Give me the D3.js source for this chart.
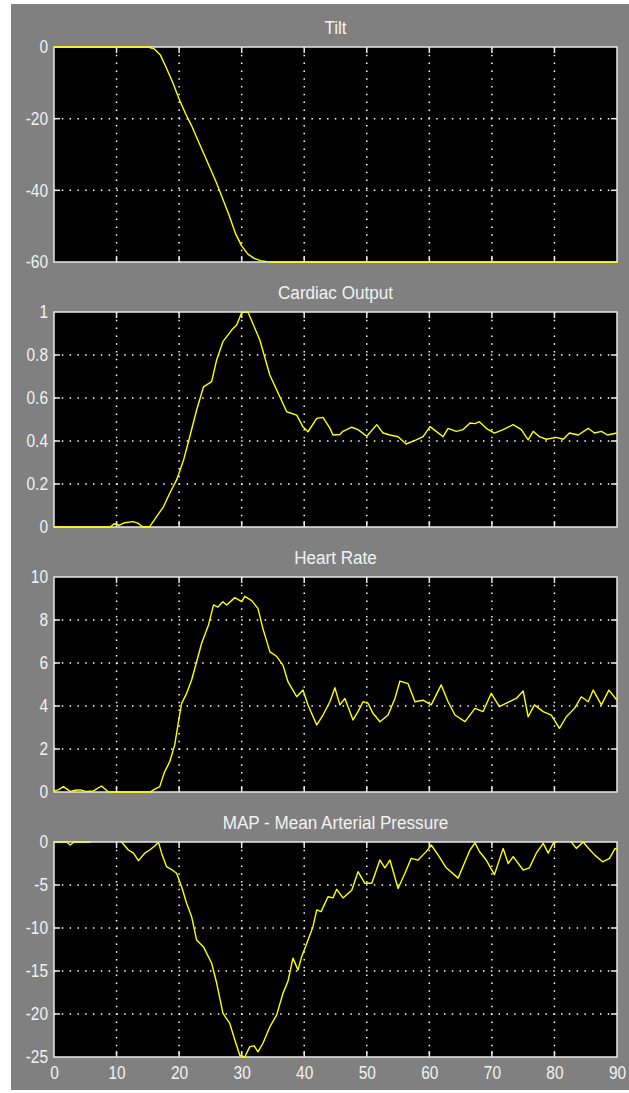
<!DOCTYPE html>
<html>
<head>
<meta charset="utf-8">
<script src="https://cdn.jsdelivr.net/npm/d3@7"></script>
<style>
  body { margin: 0; background: #fff; }
  svg text { font-family: "Liberation Sans", Arial, sans-serif; fill: #f2f2f2; }
  /* the scope font is tall and narrow */
  .ylab text { transform-box: fill-box; transform-origin: right center; transform: scaleX(0.86); }
  .xlab text { transform-box: fill-box; transform-origin: center; transform: scaleX(0.86); }
  .ttl { transform-box: fill-box; transform-origin: center; transform: scaleX(0.9); }
</style>
</head>
<body>
<svg id="chart"></svg>
<script>
// scope data
const titles = ['Tilt', 'Cardiac Output', 'Heart Rate', 'MAP - Mean Arterial Pressure'];
const xTicks = [0, 10, 20, 30, 40, 50, 60, 70, 80, 90];

const tiltTicks = [0, -20, -40, -60];
const coTicks = [0, 0.2, 0.4, 0.6, 0.8, 1];
const hrTicks = [0, 2, 4, 6, 8, 10];
const mapTicks = [0, -5, -10, -15, -20, -25];

const tiltT = [0, 15, 16, 17, 18, 19, 20, 21, 22, 23, 24, 25, 26, 27, 28, 29, 30, 31, 32, 33, 34, 35, 90];
const tiltV = [0, 0, -0.5, -2.2, -6, -10, -14.5, -18.5, -22, -26, -30, -34, -38, -42.5, -47, -52, -55.5, -57.8, -59, -59.6, -59.9, -60, -60];

const coT = [0, 9, 9.6, 10.4, 11.3, 12.6, 13.4, 14.2, 15.3, 16.4, 17.5, 18.5, 19.6, 20.7, 21.7, 22.8, 23.9, 25.2, 26, 27,
  28.4, 29.2, 30, 31, 32.9, 34.5, 36.1, 37.2, 38.8, 39.8, 40.6, 42, 43, 44.1, 44.6, 45.7, 46.2, 47.6, 48.6, 50,
  51.6, 52.6, 53.7, 55, 56.3, 57.9, 59, 60.1, 61.1, 62.2, 63, 64.3, 65.4, 66.5, 67.3, 68, 69.1, 70.4, 71.8, 73.4,
  74.7, 75.8, 76.6, 77.6, 78.7, 80.3, 81.4, 82.4, 83.8, 85.4, 86.4, 87.5, 88.5, 90];
const coV = [0, 0, 0.015, 0.008, 0.02, 0.025, 0.018, 0, 0.002, 0.048, 0.094, 0.157, 0.219, 0.31, 0.42, 0.544, 0.652, 0.676, 0.777, 0.862,
  0.916, 0.94, 0.997, 1.0, 0.87, 0.707, 0.606, 0.536, 0.52, 0.466, 0.443, 0.505, 0.51, 0.46, 0.428, 0.43, 0.445, 0.464, 0.453, 0.422,
  0.476, 0.437, 0.428, 0.42, 0.386, 0.405, 0.42, 0.467, 0.445, 0.42, 0.459, 0.445, 0.453, 0.484, 0.481, 0.49, 0.459, 0.437, 0.453, 0.476,
  0.453, 0.405, 0.445, 0.42, 0.408, 0.417, 0.408, 0.437, 0.428, 0.459, 0.437, 0.445, 0.428, 0.437];

const hrT = [0, 0.7, 1.5, 2.6, 3.4, 4.2, 5.2, 6.3, 7.6, 8.7, 15.4, 15.9, 16.9, 17.7, 18.5, 19.3, 19.9, 20.4, 21.2, 22,
  22.8, 23.6, 24.7, 25.5, 26.2, 27, 27.6, 28.9, 30, 30.5, 31.6, 32.6, 33.4, 34.5, 35.6, 36.6, 37.4, 38.8, 39.8, 40.6,
  42, 43, 44.1, 44.9, 45.7, 46.5, 47.8, 48.6, 49.4, 50.2, 51, 52.1, 53.4, 54.5, 55.3, 56.6, 57.7, 59, 60.3, 61.9,
  63, 64.1, 65.7, 67.3, 68.6, 69.9, 71.2, 72.8, 73.9, 75, 75.8, 76.8, 78.2, 79.5, 80.8, 81.9, 83.2, 84.3, 85.4, 86.2,
  87.5, 88.7, 90];
const hrV = [0.05, 0.1, 0.25, 0.03, 0.08, 0.1, 0.02, 0.05, 0.28, 0, 0, 0.1, 0.25, 0.95, 1.41, 2.19, 3.27, 4.12, 4.59, 5.21,
  6.06, 6.92, 7.77, 8.7, 8.6, 8.85, 8.7, 9.04, 8.85, 9.1, 8.9, 8.54, 7.6, 6.53, 6.3, 5.9, 5.13, 4.43, 4.74, 4.05,
  3.12, 3.58, 4.2, 4.85, 4.05, 4.35, 3.35, 3.74, 4.2, 4.12, 3.66, 3.27, 3.58, 4.35, 5.16, 5.04, 4.2, 4.27, 4.05, 4.98,
  4.2, 3.58, 3.27, 3.89, 3.74, 4.59, 3.97, 4.2, 4.35, 4.7, 3.5, 4.05, 3.74, 3.58, 2.96, 3.5, 3.89, 4.43, 4.2, 4.74,
  4.05, 4.74, 4.27];

const mapT = [0, 2, 2.6, 3.2, 5.7, 6.5, 9, 10.5, 10.8, 11.9, 12.7, 13.5, 14.5, 15.3, 16.1, 16.7, 17.2, 18, 18.8, 19.6,
  20.4, 21.2, 22, 22.8, 23.9, 25.2, 26, 27, 28.1, 28.9, 29.7, 30.5, 31.3, 32, 32.6, 33.4, 34.5, 35.6, 36.6, 37.4,
  38.2, 39, 39.6, 40.4, 41.4, 42, 42.7, 43.8, 44.6, 45.2, 46.2, 47.6, 48.6, 49.7, 50.8, 52.1, 52.9, 53.7, 55, 56.1,
  57.1, 58.2, 59.5, 60.3, 61.4, 62.7, 64.6, 65.7, 66.5, 67.3, 68, 69.1, 70.4, 71.8, 72.6, 73.4, 75, 76, 77.1, 78.2,
  79, 79.8, 81, 82.2, 82.7, 83.5, 84.6, 85.4, 86.4, 87.7, 88.8, 89.7, 90];
const mapV = [0, 0, -0.35, 0, 0, 0.6, 0.8, 0.2, 0, -0.93, -1.3, -2.17, -1.3, -0.93, -0.47, -0.04, -1.3, -2.87, -3.2, -3.64,
  -5.2, -7.13, -8.68, -11.4, -12.2, -14.1, -16.4, -19.9, -21.1, -23, -24.8, -25, -23.8, -23.7, -24.4, -23.4, -21.5, -20.1, -17.6, -16.2,
  -13.5, -14.9, -13.3, -11.8, -9.85, -7.9, -8.1, -6.36, -6.5, -5.5, -6.5, -5.6, -3.45, -4.8, -4.8, -2.1, -3, -2.1, -5.4, -3.64,
  -1.9, -2.1, -1.12, -0.35, -1.5, -3, -4.2, -2.3, -0.93, -0.1, -1.1, -2.1, -3.8, -0.74, -2.5, -1.7, -3.26, -3, -1.3, -0.15,
  -1.3, -0.15, 0.3, 0.3, 0, -0.74, 0, -0.7, -1.5, -2.3, -1.9, -0.74, -0.9];

const panels = [
  { title: titles[0], t: tiltT, v: tiltV, ticks: tiltTicks, domain: [-60, 0] },
  { title: titles[1], t: coT, v: coV, ticks: coTicks, domain: [0, 1] },
  { title: titles[2], t: hrT, v: hrV, ticks: hrTicks, domain: [0, 10] },
  { title: titles[3], t: mapT, v: mapV, ticks: mapTicks, domain: [-25, 0] }
];

const W = 629, H = 1093;
const left = 54, right = 617;
const firstTop = 47, panelH = 215, step = 265;
const tickLen = 6;

const svg = d3.select('#chart').attr('width', W).attr('height', H);

// grey figure background
svg.append('rect')
  .attr('x', 11).attr('y', 4)
  .attr('width', W - 11).attr('height', 1086)
  .attr('fill', '#808080');

const x = d3.scaleLinear().domain([0, 90]).range([left, right]);

panels.forEach((p, i) => {
  const top = firstTop + i * step;
  const bottom = top + panelH;
  const y = d3.scaleLinear().domain(p.domain).range([bottom, top]);
  const g = svg.append('g');

  g.append('rect')
    .attr('x', left).attr('y', top)
    .attr('width', right - left).attr('height', panelH)
    .attr('fill', '#000');

  // dotted grid
  const xInner = xTicks.filter(d => d > 0 && d < 90);
  const yInner = p.ticks.filter(d => d > p.domain[0] && d < p.domain[1]);
  g.selectAll('.gx').data(xInner).join('line')
    .attr('x1', d => x(d)).attr('x2', d => x(d))
    .attr('y1', top).attr('y2', bottom)
    .attr('stroke', '#fff').attr('stroke-width', 1.5)
    .attr('stroke-dasharray', '1.5,6.3');
  g.selectAll('.gy').data(yInner).join('line')
    .attr('x1', left).attr('x2', right)
    .attr('y1', d => y(d)).attr('y2', d => y(d))
    .attr('stroke', '#fff').attr('stroke-width', 1.5)
    .attr('stroke-dasharray', '1.5,6.3');

  // inner tick marks on all sides
  const tk = '#e8e8e8';
  g.selectAll('.tb').data(xInner).join('line')
    .attr('x1', d => x(d)).attr('x2', d => x(d))
    .attr('y1', bottom).attr('y2', bottom - tickLen)
    .attr('stroke', tk).attr('stroke-width', 1.5);
  g.selectAll('.tt').data(xInner).join('line')
    .attr('x1', d => x(d)).attr('x2', d => x(d))
    .attr('y1', top).attr('y2', top + tickLen)
    .attr('stroke', tk).attr('stroke-width', 1.5);
  g.selectAll('.tl').data(yInner).join('line')
    .attr('x1', left).attr('x2', left + tickLen)
    .attr('y1', d => y(d)).attr('y2', d => y(d))
    .attr('stroke', tk).attr('stroke-width', 1.5);
  g.selectAll('.tr').data(yInner).join('line')
    .attr('x1', right).attr('x2', right - tickLen)
    .attr('y1', d => y(d)).attr('y2', d => y(d))
    .attr('stroke', tk).attr('stroke-width', 1.5);

  // box
  g.append('rect')
    .attr('x', left).attr('y', top)
    .attr('width', right - left).attr('height', panelH)
    .attr('fill', 'none').attr('stroke', tk).attr('stroke-width', 1.5);

  // y labels (plain hyphen minus, as on the scope)
  const ya = g.append('g')
    .attr('class', 'ylab')
    .attr('transform', `translate(${left - 6},0)`)
    .call(d3.axisLeft(y).tickValues(p.ticks).tickSize(0).tickPadding(0).tickFormat(d => String(d)));
  ya.select('.domain').remove();
  ya.selectAll('text').attr('font-size', 18).attr('fill', '#f2f2f2')
    .style('font-family', '"Liberation Sans", Arial, sans-serif');

  // title
  g.append('text')
    .attr('class', 'ttl')
    .attr('x', (left + right) / 2).attr('y', top - 13)
    .attr('text-anchor', 'middle')
    .attr('font-size', 19)
    .text(p.title);

  // signal
  const clipId = 'clip' + i;
  svg.append('clipPath').attr('id', clipId)
    .append('rect')
    .attr('x', left - 1).attr('y', top - 1)
    .attr('width', right - left + 2).attr('height', panelH + 2);

  const pts = p.t.map((t, k) => [t, p.v[k]]);
  g.append('path')
    .datum(pts)
    .attr('clip-path', `url(#${clipId})`)
    .attr('fill', 'none')
    .attr('stroke', '#ffff00')
    .attr('stroke-width', 1.4)
    .attr('stroke-linejoin', 'round')
    .attr('d', d3.line().x(d => x(d[0])).y(d => y(d[1])));

  // x labels on bottom panel only
  if (i === panels.length - 1) {
    const xa = g.append('g')
      .attr('class', 'xlab')
      .attr('transform', `translate(0,${bottom + 9})`)
      .call(d3.axisBottom(x).tickValues(xTicks).tickSize(0).tickPadding(0));
    xa.select('.domain').remove();
    xa.selectAll('text').attr('font-size', 18).attr('fill', '#f2f2f2')
      .style('font-family', '"Liberation Sans", Arial, sans-serif');
  }
});
</script>
</body>
</html>
